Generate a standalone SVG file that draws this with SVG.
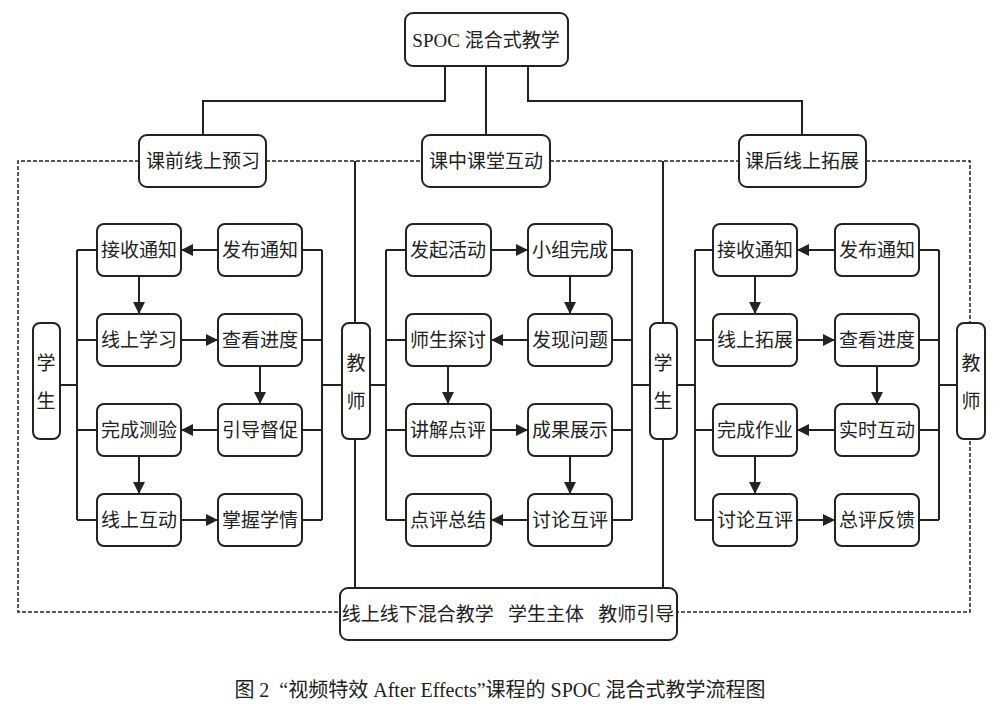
<svg xmlns="http://www.w3.org/2000/svg" width="1000" height="715" viewBox="0 0 1000 715">
<style>
.n rect{fill:#fff;stroke:#222;stroke-width:2}
text{font-family:"Liberation Serif","Noto Sans CJK SC",sans-serif;font-size:19px;fill:#222;text-anchor:middle;dominant-baseline:central}
.l{fill:none;stroke:#222;stroke-width:2}
.d{fill:none;stroke:#222;stroke-width:1.5;stroke-dasharray:4,2}
.a{fill:none;stroke:#222;stroke-width:2;marker-end:url(#ar)}
</style>
<defs><marker id="ar" viewBox="0 0 10 10" refX="10" refY="5" markerWidth="13" markerHeight="12" markerUnits="userSpaceOnUse" orient="auto"><path d="M0,0L10,5L0,10z" fill="#222"/></marker></defs>
<g id="connectors">
<path class="l" d="M445,66V101H203V135M486,66V135M528,66V101H802V135"/>
<path class="d" d="M139,161H18V612H340M266,161H422M550,161H739M866,161H970V612H677"/>
<path class="l" d="M355,161V323M355,439V588M663,161V323M663,439V588"/>
<path class="l" d="M60,385H77M77,250V520M77,250H97M77,340H97M77,430H97M77,520H97"/>
<path class="l" d="M302,250H322M302,340H322M302,430H322M302,520H322M322,250V520M322,385H342"/>
<path class="l" d="M370,385H386M386,250V520M386,250H406M386,340H406M386,430H406M386,520H406"/>
<path class="l" d="M612,250H632M612,340H632M612,430H632M612,520H632M632,250V520M632,385H650"/>
<path class="l" d="M677,385H695M695,250V520M695,250H713M695,340H713M695,430H713M695,520H713"/>
<path class="l" d="M919,250H939M919,340H939M919,430H939M919,520H939M939,250V520M939,385H957"/>
<path class="a" d="M218,250H181"/><path class="a" d="M139,276V314"/><path class="a" d="M181,340H218"/><path class="a" d="M260,366V404"/><path class="a" d="M218,430H181"/><path class="a" d="M139,456V494"/><path class="a" d="M181,520H218"/>
<path class="a" d="M491,250H528"/><path class="a" d="M570,276V314"/><path class="a" d="M528,340H491"/><path class="a" d="M448,366V404"/><path class="a" d="M491,430H528"/><path class="a" d="M570,456V494"/><path class="a" d="M528,520H491"/>
<path class="a" d="M835,250H797"/><path class="a" d="M755,276V314"/><path class="a" d="M797,340H835"/><path class="a" d="M877,366V404"/><path class="a" d="M835,430H797"/><path class="a" d="M755,456V494"/><path class="a" d="M797,520H835"/>
</g>
<g id="top" class="n"><rect x="405" y="13" width="163" height="53" rx="8"/><text x="486" y="40">SPOC 混合式教学</text></g>
<g id="p1" class="n"><rect x="139" y="135" width="127" height="52" rx="8"/><text x="203" y="161">课前线上预习</text></g>
<g id="p2" class="n"><rect x="422" y="135" width="128" height="52" rx="8"/><text x="486" y="161">课中课堂互动</text></g>
<g id="p3" class="n"><rect x="739" y="135" width="127" height="52" rx="8"/><text x="802" y="161">课后线上拓展</text></g>
<g id="s1" class="n"><rect x="33" y="323" width="27" height="116" rx="7"/><text x="46" y="363">学</text><text x="46" y="401">生</text></g>
<g id="t1" class="n"><rect x="342" y="323" width="28" height="116" rx="7"/><text x="356" y="363">教</text><text x="356" y="401">师</text></g>
<g id="s2" class="n"><rect x="650" y="323" width="27" height="116" rx="7"/><text x="663" y="363">学</text><text x="663" y="401">生</text></g>
<g id="t2" class="n"><rect x="957" y="323" width="28" height="116" rx="7"/><text x="971" y="363">教</text><text x="971" y="401">师</text></g>
<g id="a1" class="n"><rect x="97" y="224" width="84" height="52" rx="7"/><text x="139" y="250">接收通知</text></g>
<g id="a2" class="n"><rect x="218" y="224" width="84" height="52" rx="7"/><text x="260" y="250">发布通知</text></g>
<g id="a3" class="n"><rect x="97" y="314" width="84" height="52" rx="7"/><text x="139" y="340">线上学习</text></g>
<g id="a4" class="n"><rect x="218" y="314" width="84" height="52" rx="7"/><text x="260" y="340">查看进度</text></g>
<g id="a5" class="n"><rect x="97" y="404" width="84" height="52" rx="7"/><text x="139" y="430">完成测验</text></g>
<g id="a6" class="n"><rect x="218" y="404" width="84" height="52" rx="7"/><text x="260" y="430">引导督促</text></g>
<g id="a7" class="n"><rect x="97" y="494" width="84" height="52" rx="7"/><text x="139" y="520">线上互动</text></g>
<g id="a8" class="n"><rect x="218" y="494" width="84" height="52" rx="7"/><text x="260" y="520">掌握学情</text></g>
<g id="b1" class="n"><rect x="406" y="224" width="85" height="52" rx="7"/><text x="448" y="250">发起活动</text></g>
<g id="b2" class="n"><rect x="528" y="224" width="84" height="52" rx="7"/><text x="570" y="250">小组完成</text></g>
<g id="b3" class="n"><rect x="406" y="314" width="85" height="52" rx="7"/><text x="448" y="340">师生探讨</text></g>
<g id="b4" class="n"><rect x="528" y="314" width="84" height="52" rx="7"/><text x="570" y="340">发现问题</text></g>
<g id="b5" class="n"><rect x="406" y="404" width="85" height="52" rx="7"/><text x="448" y="430">讲解点评</text></g>
<g id="b6" class="n"><rect x="528" y="404" width="84" height="52" rx="7"/><text x="570" y="430">成果展示</text></g>
<g id="b7" class="n"><rect x="406" y="494" width="85" height="52" rx="7"/><text x="448" y="520">点评总结</text></g>
<g id="b8" class="n"><rect x="528" y="494" width="84" height="52" rx="7"/><text x="570" y="520">讨论互评</text></g>
<g id="c1" class="n"><rect x="713" y="224" width="84" height="52" rx="7"/><text x="755" y="250">接收通知</text></g>
<g id="c2" class="n"><rect x="835" y="224" width="84" height="52" rx="7"/><text x="877" y="250">发布通知</text></g>
<g id="c3" class="n"><rect x="713" y="314" width="84" height="52" rx="7"/><text x="755" y="340">线上拓展</text></g>
<g id="c4" class="n"><rect x="835" y="314" width="84" height="52" rx="7"/><text x="877" y="340">查看进度</text></g>
<g id="c5" class="n"><rect x="713" y="404" width="84" height="52" rx="7"/><text x="755" y="430">完成作业</text></g>
<g id="c6" class="n"><rect x="835" y="404" width="84" height="52" rx="7"/><text x="877" y="430">实时互动</text></g>
<g id="c7" class="n"><rect x="713" y="494" width="84" height="52" rx="7"/><text x="755" y="520">讨论互评</text></g>
<g id="c8" class="n"><rect x="835" y="494" width="84" height="52" rx="7"/><text x="877" y="520">总评反馈</text></g>
<g id="bottom" class="n"><rect x="340" y="588" width="337" height="52" rx="8"/><text x="508" y="614" xml:space="preserve">线上线下混合教学   学生主体   教师引导</text></g>
<text x="500" y="690" style="font-size:20px" xml:space="preserve">图 2  “视频特效 After Effects”课程的 SPOC 混合式教学流程图</text>
</svg>
